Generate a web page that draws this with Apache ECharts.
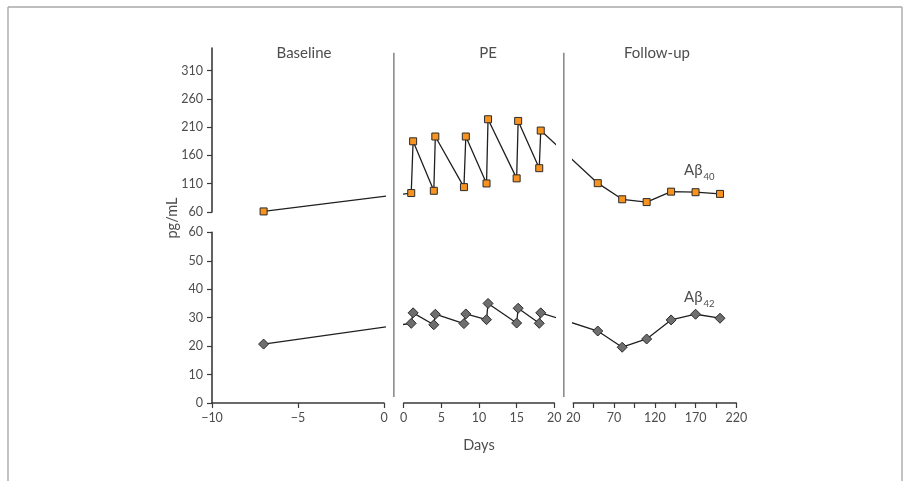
<!DOCTYPE html>
<html>
<head>
<meta charset="utf-8">
<script src="https://cdn.jsdelivr.net/npm/echarts@6/dist/echarts.min.js"></script>
<style>
  html, body { margin: 0; padding: 0; background: #fff; overflow: hidden; }
  #chart { width: 907px; height: 486px; }
</style>
</head>
<body>
<div id="chart"></div>
<script>
// ---- data -------------------------------------------------------------
const panelNames = ['Baseline', 'PE', 'Follow-up'];

const baselineDays = [-7];
const baselineAb40 = [61];
const baselineAb42 = [20.7];

const peDays = [1, 1.25, 4, 4.2, 8, 8.25, 11, 11.2, 15, 15.2, 18, 18.2];
const peAb40 = [93.5, 185, 97.5, 193.5, 104, 193.5, 110.5, 224, 119.5, 221, 137.5, 204];
const peAb42 = [28.0, 31.7, 27.5, 31.2, 27.9, 31.3, 29.3, 35.0, 28.1, 33.3, 28.0, 31.7];

const followDays = [50, 80, 110, 140, 170, 200];
const followAb40 = [111, 82.5, 77.5, 96, 95, 92];
const followAb42 = [25.3, 19.6, 22.5, 29.2, 31.2, 29.8];

// tick values
const upperTicks = [60, 110, 160, 210, 260, 310];
const lowerTicks = [0, 10, 20, 30, 40, 50, 60];
const baselineTicks = [-10, -5, 0];
const peTicks = [0, 5, 10, 15, 20];
const followTicks = [20, 45, 70, 95, 120, 145, 170, 195, 220];
const followLabels = [20, 70, 120, 170, 220];

// ---- layout -----------------------------------------------------------
const panels = [
  { left: 212,   width: 172,   min: -10, max: 0,   ticks: baselineTicks, labels: baselineTicks, titleX: 299 },
  { left: 403.7, width: 150.6, min: 0,   max: 20,  ticks: peTicks,       labels: peTicks,       titleX: 483 },
  { left: 573.3, width: 163,   min: 20,  max: 220, ticks: followTicks,   labels: followLabels,  titleX: 652 }
];
const bands = [
  { top: 48,    height: 164,   min: 60, max: 350, ticks: upperTicks },
  { top: 232.3, height: 170.7, min: 0,  max: 60,  ticks: lowerTicks }
];

const FONT = 'Lato';
const AXIS_COLOR = '#3a3a3a';
const TEXT_COLOR = '#4d4d4d';

const series40 = [
  [baselineDays, baselineAb40],
  [peDays, peAb40],
  [followDays, followAb40]
];
const series42 = [
  [baselineDays, baselineAb42],
  [peDays, peAb42],
  [followDays, followAb42]
];

function pairs(xs, ys) { return xs.map((x, i) => [x, ys[i]]); }
const fmtNum = v => String(v).replace('-', '\u2212');

const grids = [], xAxes = [], yAxes = [];
bands.forEach((b, bi) => {
  panels.forEach((p, pi) => {
    grids.push({ left: p.left, width: p.width, top: b.top, height: b.height, containLabel: false });
    xAxes.push({
      type: 'value', gridIndex: grids.length - 1, min: p.min, max: p.max,
      show: bi === 1, position: 'bottom',
      axisLine: { show: true, onZero: false, lineStyle: { color: AXIS_COLOR, width: 1.6 } },
      axisTick: { show: true, length: 5, customValues: p.ticks, lineStyle: { color: AXIS_COLOR, width: 1.2 } },
      axisLabel: { customValues: p.labels, margin: 8, color: TEXT_COLOR, fontFamily: FONT, fontSize: 12.5, formatter: fmtNum },
      splitLine: { show: false }
    });
    yAxes.push({
      type: 'value', gridIndex: grids.length - 1, min: b.min, max: b.max,
      show: pi === 0, position: 'left',
      axisLine: { show: true, onZero: false, lineStyle: { color: AXIS_COLOR, width: 1.6 } },
      axisTick: { show: true, length: 5, customValues: b.ticks, lineStyle: { color: AXIS_COLOR, width: 1.2 } },
      axisLabel: { customValues: b.ticks, margin: 9, color: TEXT_COLOR, fontFamily: FONT, fontSize: 12.5 },
      splitLine: { show: false }
    });
  });
});

const squareStyle = {
  symbol: 'rect', symbolSize: 7,
  itemStyle: { color: '#f7931e', borderColor: '#2b2b2b', borderWidth: 1 }
};
const diamondStyle = {
  symbol: 'diamond', symbolSize: 10,
  itemStyle: { color: '#6e6e6e', borderColor: '#2b2b2b', borderWidth: 1 }
};

function buildSeries(extra) {
  const out = [];
  [series40, series42].forEach((set, bi) => {
    set.forEach(([xs, ys], pi) => {
      const g = bi * 3 + pi;
      const ext = extra ? extra[g] : { before: null, after: null };
      const data = pairs(xs, ys).map(v => ({ value: v }));
      if (ext.before) data.unshift({ value: ext.before, symbol: 'none' });
      if (ext.after) data.push({ value: ext.after, symbol: 'none' });
      out.push(Object.assign({
        type: 'line', xAxisIndex: g, yAxisIndex: g, data: data, clip: true,
        lineStyle: { color: '#1f1f1f', width: 1.3 }, animation: false, z: 3
      }, bi === 0 ? squareStyle : diamondStyle));
    });
  });
  return out;
}

const titles = panels.map((p, i) => ({
  text: panelNames[i], left: p.titleX, top: 41, textAlign: 'center',
  textStyle: { fontFamily: FONT, fontWeight: 'normal', fontSize: 15, color: TEXT_COLOR }
}));

// separators between the three panels
const sepTop = 52.7, sepBottom = 397;
const separators = [0, 1].map(i => {
  const x = (panels[i].left + panels[i].width + panels[i + 1].left) / 2;
  return { type: 'line', shape: { x1: x, y1: sepTop, x2: x, y2: sepBottom },
           style: { stroke: '#8c8c8c', lineWidth: 1.6 }, silent: true };
});

// open frame: top edge and both sides
const frameStyle = { stroke: '#a9a9a9', lineWidth: 1.4 };
const frame = [
  { type: 'line', shape: { x1: 8, y1: 7, x2: 902, y2: 7 }, style: frameStyle, silent: true },
  { type: 'line', shape: { x1: 8, y1: 7, x2: 8, y2: 481 }, style: frameStyle, silent: true },
  { type: 'line', shape: { x1: 902, y1: 7, x2: 902, y2: 481 }, style: frameStyle, silent: true }
];

const labelRich = {
  a: { fontFamily: FONT, fontSize: 15, fill: TEXT_COLOR },
  s: { fontFamily: FONT, fontSize: 9.5, fill: TEXT_COLOR, verticalAlign: 'bottom', padding: [13, 0, 0, 1] }
};

const graphics = [
  ...frame,
  ...separators,
  { type: 'text', x: 479, y: 445,
    style: { text: 'Days', fontFamily: FONT, fontSize: 14.5, fill: TEXT_COLOR, align: 'center', verticalAlign: 'middle' } },
  { type: 'text', x: 172, y: 218, rotation: Math.PI / 2,
    style: { text: 'pg/mL', fontFamily: FONT, fontSize: 14.5, fill: TEXT_COLOR, align: 'center', verticalAlign: 'middle' } },
  { type: 'text', x: 684, y: 170,
    style: { text: '{a|A\u03b2}{s|40}', verticalAlign: 'middle', rich: labelRich } },
  { type: 'text', x: 684, y: 297,
    style: { text: '{a|A\u03b2}{s|42}', verticalAlign: 'middle', rich: labelRich } }
];

const chart = echarts.init(document.getElementById('chart'), null, { renderer: 'canvas' });
chart.setOption({
  backgroundColor: '#fff',
  animation: false,
  title: titles,
  grid: grids, xAxis: xAxes, yAxis: yAxes,
  graphic: graphics,
  series: buildSeries(null)
});

// Lines continue across the panel breaks: the neighbouring panel's edge point
// is mapped into this panel's coordinates and the segment is clipped by the grid.
function mapPoint(fromGrid, toGrid, pt) {
  const px = chart.convertToPixel({ gridIndex: fromGrid }, pt);
  return chart.convertFromPixel({ gridIndex: toGrid }, px);
}
const extra = [];
[series40, series42].forEach((set, bi) => {
  set.forEach(([xs, ys], pi) => {
    const g = bi * 3 + pi;
    const e = { before: null, after: null };
    if (pi > 0) {
      const [pxs, pys] = set[pi - 1];
      e.before = mapPoint(g - 1, g, [pxs[pxs.length - 1], pys[pys.length - 1]]);
    }
    if (pi < set.length - 1) {
      const [nxs, nys] = set[pi + 1];
      e.after = mapPoint(g + 1, g, [nxs[0], nys[0]]);
    }
    extra[g] = e;
  });
});
chart.setOption({ series: buildSeries(extra) });
</script>
</body>
</html>
